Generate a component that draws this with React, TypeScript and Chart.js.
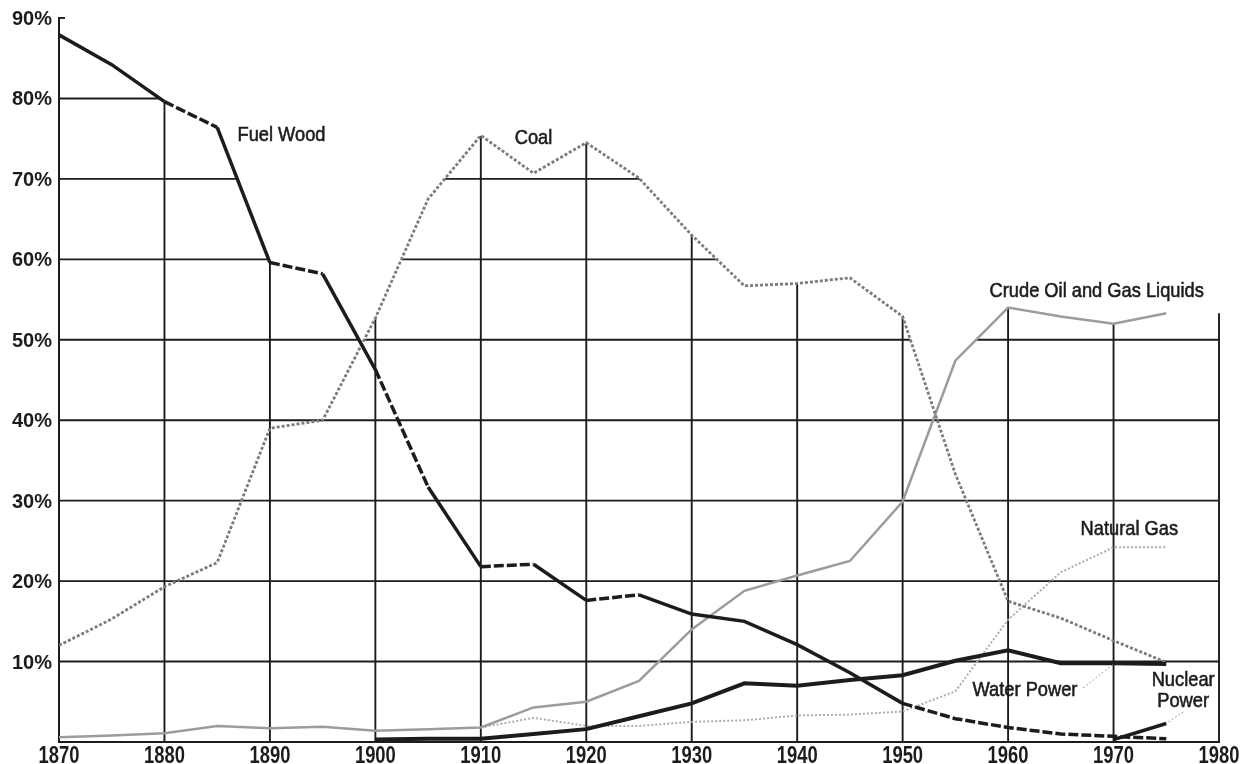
import React, { useEffect, useRef } from "react";
import { Chart, registerables } from "chart.js";

Chart.register(...registerables);

// ---- data (percent of total U.S. energy consumption) ----
const years = [
  1870, 1875, 1880, 1885, 1890, 1895, 1900, 1905, 1910, 1915, 1920,
  1925, 1930, 1935, 1940, 1945, 1950, 1955, 1960, 1965, 1970, 1975,
];
const fuelWood = [
  87.9, 84.2, 79.6, 76.4, 59.6, 58.2, 46.3, 31.7, 21.8, 22.1, 17.6,
  18.3, 15.9, 15.0, 12.1, 8.6, 4.8, 2.9, 1.8, 1.0, 0.7, 0.4,
];
const coal = [
  12.0, 15.3, 19.3, 22.3, 39.0, 40.0, 52.7, 67.5, 75.4, 70.7, 74.5,
  70.1, 63.0, 56.7, 57.0, 57.7, 52.9, 33.3, 17.5, 15.4, 12.6, 9.9,
];
const crudeOil = [
  0.6, 0.8, 1.1, 2.0, 1.7, 1.9, 1.4, 1.6, 1.8, 4.3, 5.0,
  7.6, 14.0, 18.8, 20.7, 22.5, 29.9, 47.4, 54.0, 52.9, 52.0, 53.3,
];
const naturalGas = [
  null, null, null, null, null, null, null, null, 1.8, 3.0, 2.0,
  2.0, 2.5, 2.7, 3.3, 3.4, 3.8, 6.3, 15.2, 21.1, 24.2, 24.2,
];
const waterPower = [
  null, null, null, null, null, null, 0.3, 0.4, 0.4, 1.0, 1.6,
  3.2, 4.8, 7.3, 7.0, 7.7, 8.3, 10.1, 11.4, 9.8, 9.8, 9.7,
];
const nuclearPower = [
  null, null, null, null, null, null, null, null, null, null, null,
  null, null, null, null, null, null, null, null, null, 0.3, 2.3,
];
const xTicks = [1870, 1880, 1890, 1900, 1910, 1920, 1930, 1940, 1950, 1960, 1970, 1980];
const yTicks = [10, 20, 30, 40, 50, 60, 70, 80, 90];
const xTickLabels = xTicks.map((v) => String(v));
const yTickLabels = yTicks.map((v) => `${v}%`);

// segments of the fuel wood curve printed dashed (by start year)
const fuelWoodDashedFrom = [1880, 1890, 1900, 1910, 1920, 1950, 1955, 1960, 1965, 1970];

// in-chart labels (data coordinates)
const curveLabels = [
  { text: "Fuel Wood", x: 1891.1, y: 75.4 },
  { text: "Coal", x: 1915.0, y: 75.0 },
  { text: "Crude Oil and Gas Liquids", x: 1968.4, y: 56.0 },
  { text: "Natural Gas", x: 1971.5, y: 26.4 },
  { text: "Water Power", x: 1961.6, y: 6.5 },
  { text: "Nuclear", x: 1976.6, y: 7.7 },
  { text: "Power", x: 1976.6, y: 5.1 },
];
const leaders = [
  { x1: 1967.1, y1: 6.7, x2: 1969.9, y2: 9.6 },
  { x1: 1975.2, y1: 2.5, x2: 1976.8, y2: 3.9 },
];

const SANS = "'Liberation Sans', Arial, sans-serif";
const INK = "#1c1c1c";

const toPoints = (vals: (number | null)[]) =>
  years
    .map((x, i) => ({ x, y: vals[i] }))
    .filter((p) => p.y !== null) as { x: number; y: number }[];

function squeezedText(
  ctx: CanvasRenderingContext2D,
  text: string,
  x: number,
  y: number,
  sx: number,
  align: CanvasTextAlign,
  strokeW = 0
) {
  ctx.save();
  ctx.translate(x, y);
  ctx.scale(sx, 1);
  ctx.textAlign = align;
  if (strokeW > 0) {
    ctx.strokeStyle = ctx.fillStyle as string;
    ctx.lineWidth = strokeW;
    ctx.strokeText(text, 0, 0);
  }
  ctx.fillText(text, 0, 0);
  ctx.restore();
}

const clippedGrid = {
  id: "clippedGrid",
  beforeDatasetsDraw(chart: any) {
    const { ctx, chartArea: ca, scales } = chart;
    const xs = scales.x;
    const ys = scales.y;
    const bottom = ys.getPixelForValue(0);
    ctx.save();
    ctx.beginPath();
    chart.data.datasets.forEach((ds: any) => {
      const pts = ds.data as { x: number; y: number }[];
      if (!pts.length) return;
      ctx.moveTo(xs.getPixelForValue(pts[0].x), bottom);
      pts.forEach((p) => ctx.lineTo(xs.getPixelForValue(p.x), ys.getPixelForValue(p.y)));
      const last = pts[pts.length - 1];
      ctx.lineTo(ca.right + 3, ys.getPixelForValue(last.y));
      ctx.lineTo(ca.right + 3, bottom);
      ctx.closePath();
    });
    ctx.clip();
    ctx.strokeStyle = INK;
    ctx.lineWidth = 1.9;
    ctx.beginPath();
    yTicks.forEach((v) => {
      const py = ys.getPixelForValue(v);
      ctx.moveTo(ca.left, py);
      ctx.lineTo(ca.right, py);
    });
    xTicks.forEach((v) => {
      if (v === xTicks[0]) return;
      const px = xs.getPixelForValue(v);
      ctx.moveTo(px, ca.top);
      ctx.lineTo(px, bottom);
    });
    ctx.stroke();
    ctx.restore();

    // small stub at the top of the value axis
    ctx.save();
    ctx.strokeStyle = INK;
    ctx.lineWidth = 1.9;
    ctx.beginPath();
    const top = ys.getPixelForValue(90);
    ctx.moveTo(ca.left, top);
    ctx.lineTo(ca.left + 6, top);
    ctx.stroke();
    ctx.restore();
  },
  afterDatasetsDraw(chart: any) {
    const { ctx, scales } = chart;
    const xs = scales.x;
    const ys = scales.y;
    ctx.save();
    ctx.strokeStyle = "#9a9a9a";
    ctx.lineWidth = 1;
    ctx.setLineDash([2, 2]);
    leaders.forEach((l) => {
      ctx.beginPath();
      ctx.moveTo(xs.getPixelForValue(l.x1), ys.getPixelForValue(l.y1));
      ctx.lineTo(xs.getPixelForValue(l.x2), ys.getPixelForValue(l.y2));
      ctx.stroke();
    });
    ctx.setLineDash([]);
    ctx.fillStyle = INK;
    ctx.font = `21px ${SANS}`;
    ctx.textBaseline = "middle";
    curveLabels.forEach((l) => {
      squeezedText(ctx, l.text, xs.getPixelForValue(l.x), ys.getPixelForValue(l.y), 0.87, "center", 0.6);
    });
    ctx.restore();
  },
  afterDraw(chart: any) {
    const { ctx, chartArea: ca, scales } = chart;
    const xs = scales.x;
    const ys = scales.y;
    ctx.save();
    ctx.fillStyle = INK;
    ctx.textBaseline = "alphabetic";
    ctx.font = `bold 23px ${SANS}`;
    xTicks.forEach((v, i) => {
      squeezedText(ctx, xTickLabels[i], xs.getPixelForValue(v), ca.bottom + 21, 0.8, "center");
    });
    ctx.font = `bold 20px ${SANS}`;
    yTicks.forEach((v, i) => {
      squeezedText(ctx, yTickLabels[i], ca.left - 7, ys.getPixelForValue(v) + 7, 1, "right");
    });
    ctx.restore();
  },
};

export default function App() {
  const ref = useRef<HTMLCanvasElement | null>(null);

  useEffect(() => {
    document.body.style.margin = "0";
    if (!ref.current) return;
    const chart = new Chart(ref.current, {
      type: "line",
      data: {
        datasets: [
          {
            label: "Fuel Wood",
            data: toPoints(fuelWood),
            borderColor: INK,
            borderWidth: 3.5,
            segment: {
              borderDash: (c: any) =>
                fuelWoodDashedFrom.includes(c.p0.parsed.x) ? [10, 3] : undefined,
            },
          },
          {
            label: "Water Power",
            data: toPoints(waterPower),
            borderColor: INK,
            borderWidth: 4,
          },
          {
            label: "Nuclear Power",
            data: toPoints(nuclearPower),
            borderColor: INK,
            borderWidth: 3.5,
          },
          {
            label: "Coal",
            data: toPoints(coal),
            borderColor: "#7c7c7c",
            borderWidth: 2.8,
            borderDash: [3, 2],
          },
          {
            label: "Crude Oil and Gas Liquids",
            data: toPoints(crudeOil),
            borderColor: "#9c9c9c",
            borderWidth: 2.5,
          },
          {
            label: "Natural Gas",
            data: toPoints(naturalGas),
            borderColor: "#adadad",
            borderWidth: 2,
            borderDash: [2, 2],
          },
        ],
      },
      options: {
        responsive: false,
        animation: false,
        devicePixelRatio: 1,
        layout: { padding: { top: 18, right: 28, left: 0, bottom: 0 } },
        elements: { point: { radius: 0 }, line: { tension: 0 } },
        plugins: { legend: { display: false }, tooltip: { enabled: false } },
        scales: {
          x: {
            type: "linear",
            min: 1870,
            max: 1980,
            afterBuildTicks: (s: any) => {
              s.ticks = xTicks.map((v) => ({ value: v }));
            },
            afterFit: (s: any) => {
              s.height = 22;
            },
            ticks: { display: false },
            grid: { display: false, drawTicks: false },
            border: { display: true, color: INK, width: 2 },
          },
          y: {
            min: 0,
            max: 90,
            afterBuildTicks: (s: any) => {
              s.ticks = yTicks.map((v) => ({ value: v }));
            },
            afterFit: (s: any) => {
              s.width = 59;
            },
            ticks: { display: false },
            grid: { display: false, drawTicks: false },
            border: { display: true, color: INK, width: 2 },
          },
        },
      },
      plugins: [clippedGrid],
    } as any);
    return () => chart.destroy();
  }, []);

  return (
    <div style={{ width: 1247, height: 764, background: "#fff" }}>
      <canvas ref={ref} width={1247} height={764} style={{ display: "block" }} />
    </div>
  );
}
